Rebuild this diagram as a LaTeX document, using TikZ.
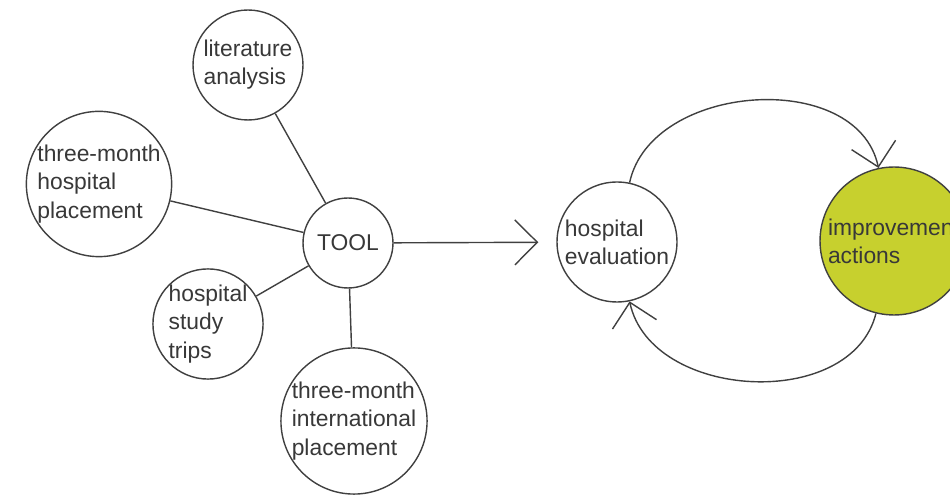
\documentclass[tikz,border=0pt]{standalone}
\usepackage{fontspec}
\setmainfont{Liberation Sans}
\usetikzlibrary{arrows.meta, positioning}
\definecolor{improvefill}{RGB}{199,208,46}
\begin{document}
\begin{tikzpicture}[
    x=0.02cm, y=-0.02cm,
    >={Straight Barb[length=0.45cm, width=0.9cm]},
    font=\fontsize{13}{16}\selectfont,
    every node/.style={align=left, text=black!78},
    bubble/.style={circle, draw=black!75, line width=0.8pt, inner sep=0pt, fill=white},
    line/.style={draw=black!75, line width=0.8pt}
]
\useasboundingbox (0,0) rectangle (950,499);
% feeding sources around the tool
\node[bubble, minimum size=1.8cm] (tool) at (348,243) {TOOL};
\node[bubble, minimum size=2.2cm] (literature) at (248,65) {literature\\analysis};
\node[bubble, minimum size=2.8cm] (placement) at (99,184) {three-month\\hospital\\placement};
\node[bubble, minimum size=2.16cm] (trips) at (208,324) {hospital\\study\\trips};
\node[bubble, minimum size=2.76cm] (international) at (354,421) {three-month\\international\\placement};
% evaluation cycle
\node[bubble, minimum size=2.4cm] (evaluation) at (617,242) {hospital\\evaluation};
\node[bubble, minimum size=2.96cm, fill=improvefill] (improvement) at (894,241) {improvement\\actions};
\draw[line] (literature) -- (tool);
\draw[line] (placement) -- (tool);
\draw[line] (trips) -- (tool);
\draw[line] (international) -- (tool);
\draw[line, ->, shorten >=0.36cm] (tool) -- (evaluation);
\draw[line, ->] (evaluation) to[out=78, in=102, looseness=1.05] (improvement);
\draw[line, ->] (improvement) to[out=-104, in=-78, looseness=1.05] (evaluation);
\end{tikzpicture}
\end{document}
